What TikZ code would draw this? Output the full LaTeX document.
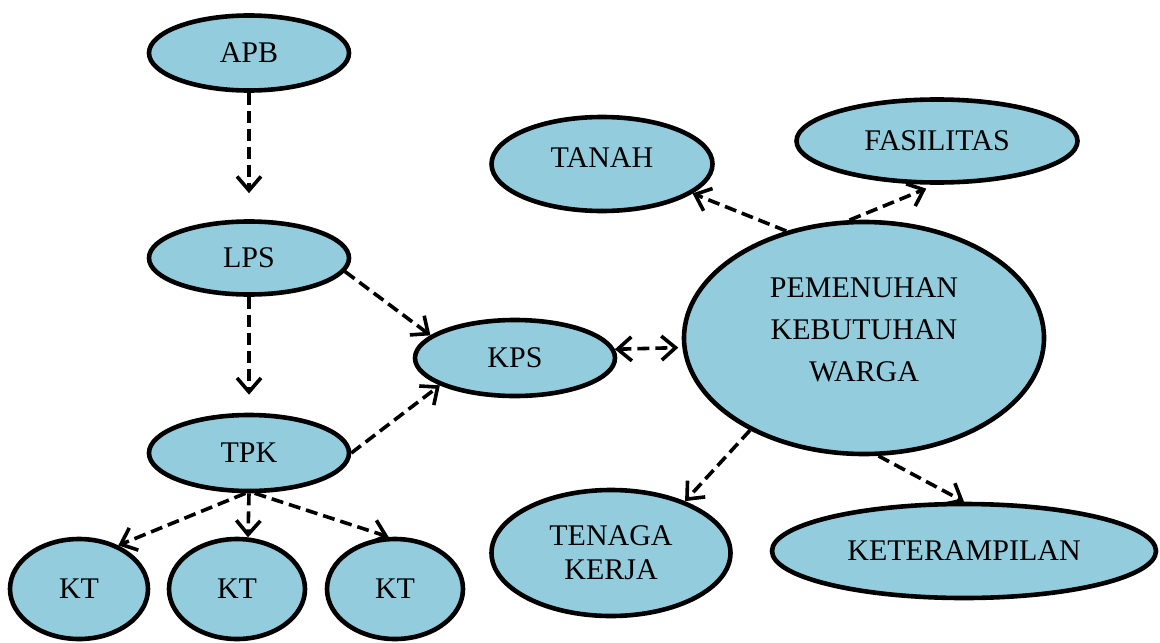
\documentclass[tikz,border=0pt]{standalone}
\usepackage{fontspec}
\setmainfont{Liberation Serif}
\usepackage{tikz}
\usetikzlibrary{arrows.meta,shapes.geometric}
\definecolor{ovalblue}{RGB}{147,205,221}

\begin{document}
\begin{tikzpicture}[x=0.5pt,y=-0.5pt,
    oval/.style={ellipse,draw=black,fill=ovalblue,line width=2.3pt,inner sep=0pt,
      font=\fontsize{15}{17}\selectfont,align=center},
    flow/.style={line width=1.8pt,dash pattern=on 6pt off 3pt,
      -{Straight Barb[length=7pt,width=12pt]}},
    twoway/.style={flow,{Straight Barb[length=7pt,width=12pt]}-{Straight Barb[length=7pt,width=12pt]}}]
  \useasboundingbox (0,0) rectangle (1160,642);

  % left column
  \node[oval,minimum width=100pt,minimum height=37.5pt] (apb) at (249,53) {APB};
  \node[oval,minimum width=100pt,minimum height=36.5pt] (lps) at (249,258) {LPS};
  \node[oval,minimum width=100pt,minimum height=38pt] (tpk) at (249,453) {TPK};
  \node[oval,minimum width=69pt,minimum height=50pt] (kt1) at (79,589) {KT};
  \node[oval,minimum width=68pt,minimum height=50pt] (kt2) at (237,589) {KT};
  \node[oval,minimum width=68pt,minimum height=50pt] (kt3) at (395,589) {KT};

  % middle and right
  \node[oval,minimum width=100pt,minimum height=38pt] (kps) at (515,358) {KPS};
  \node[oval,minimum width=110.5pt,minimum height=47pt,
    label={[font=\fontsize{15}{17}\selectfont,yshift=3pt]center:TANAH}] (tanah) at (602,164) {};
  \node[oval,minimum width=140.5pt,minimum height=41.5pt] (fas) at (937,141) {FASILITAS};
  \node[oval,minimum width=180pt,minimum height=116pt,
    label={[font=\fontsize{15}{21}\selectfont,align=center,yshift=4pt]center:PEMENUHAN\\KEBUTUHAN\\WARGA}] (pem) at (864,338) {};
  \node[oval,minimum width=119.5pt,minimum height=63pt] (ten) at (611,553) {TENAGA\\KERJA};
  \node[oval,minimum width=192pt,minimum height=47pt] (ket) at (964,551) {KETERAMPILAN};

  \draw[flow,shorten >=13pt] (apb) -- (lps);
  \draw[flow,shorten >=9pt] (lps) -- (tpk);
  \draw[flow] (lps.-8) -- (kps.165);
  \draw[flow] (tpk.east) -- (kps.200);
  \draw[flow] (tpk.-95) -- (kt1.48);
  \draw[flow] (tpk.south) -- (kt2.78);
  \draw[flow] (tpk.-82) -- (kt3.97);

  \draw[twoway,shorten >=2pt] (kps.5) -- (pem.183);
  \draw[flow] (pem.126) -- (tanah.-18);
  \draw[flow,shorten >=5pt] (pem.97) -- (fas.-92);
  \draw[flow] (pem.219) -- (ten.35);
  \draw[flow] (pem.-83) -- (ket.north);
\end{tikzpicture}
\end{document}
